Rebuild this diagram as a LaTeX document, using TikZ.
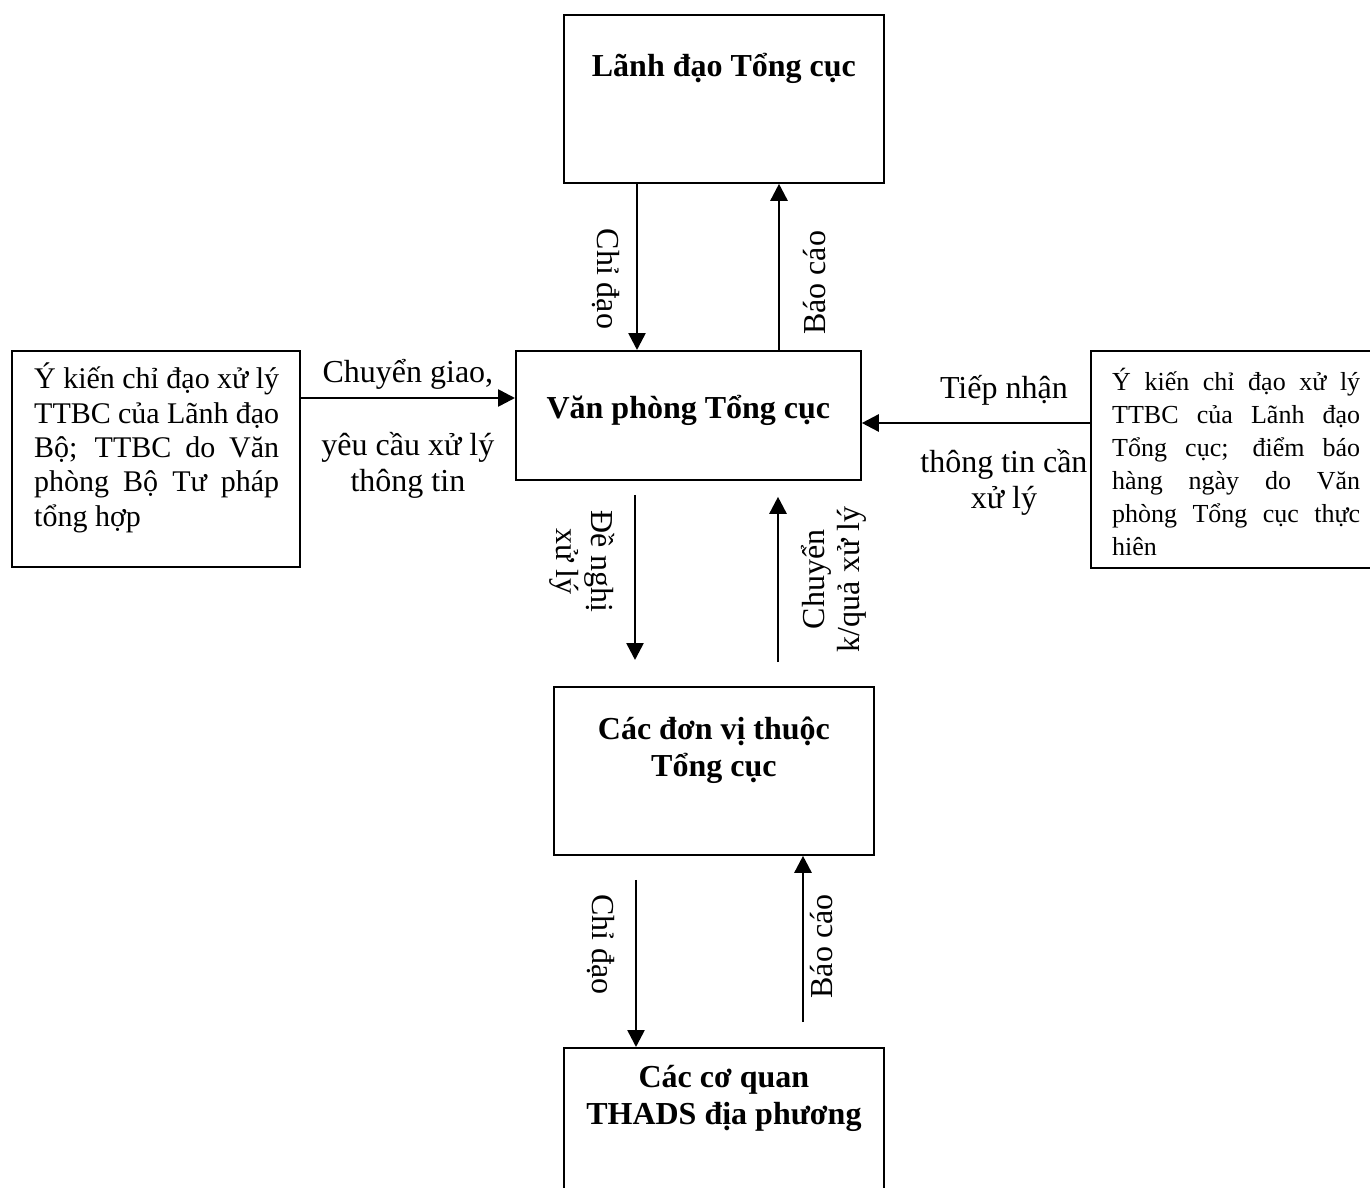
\documentclass[tikz,border=0pt]{standalone}
\usepackage{fontspec}
\setmainfont{Liberation Serif}
\usetikzlibrary{arrows.meta,positioning}

\begin{document}
\begin{tikzpicture}[x=1pt,y=-1pt,
  box/.style={draw, line width=1.8pt, inner sep=0pt, anchor=north west},
  hd/.style={font=\fontsize{32}{37}\selectfont\bfseries, align=center, anchor=base, inner sep=0pt},
  para/.style={align=justify, anchor=north west, inner sep=0pt},
  lb/.style={font=\fontsize{32}{35.5}\selectfont, align=center},
  arr/.style={line width=2.6pt, -{Triangle[width=17pt,length=17pt]}}]
\useasboundingbox (0,0) rectangle (1370,1188);

% boxes
\node[box, minimum width=320pt, minimum height=168pt,
  label={[hd, yshift=-63pt]north:{Lãnh đạo Tổng cục}}] (lead) at (563,14) {};
\node[box, minimum width=345pt, minimum height=129pt,
  label={[hd, yshift=-68pt]north:{Văn phòng Tổng cục}}] (office) at (515,350) {};
\node[box, minimum width=288pt, minimum height=216pt,
  label={[para, text width=245pt, font=\fontsize{30}{34.3}\selectfont, xshift=23pt, yshift=-13pt]north west:{Ý kiến chỉ đạo xử lý\linebreak TTBC của Lãnh đạo\linebreak Bộ; TTBC do Văn\linebreak phòng Bộ Tư pháp\linebreak tổng hợp}}] (left) at (11,350) {};
\node[box, minimum width=300pt, minimum height=217pt,
  label={[para, text width=248pt, font=\fontsize{26}{33}\selectfont, xshift=22pt, yshift=-18pt]north west:{Ý kiến chỉ đạo xử lý\linebreak TTBC của Lãnh đạo\linebreak Tổng cục; điểm báo\linebreak hàng ngày do Văn\linebreak phòng Tổng cục thực\linebreak hiên}}] (right) at (1090,350) {};
\node[box, minimum width=320pt, minimum height=168pt,
  label={[hd, yshift=-90pt]north:{Các đơn vị thuộc\\Tổng cục}}] (units) at (553,686) {};
\node[box, minimum width=320pt, minimum height=168pt,
  label={[hd, yshift=-77pt]north:{Các cơ quan\\THADS địa phương}}] (local) at (563,1047) {};

% arrow lanes
\coordinate (c1) at (637,0);
\coordinate (c2) at (779,0);
\coordinate (c3) at (635,0);
\coordinate (c4) at (778,0);
\coordinate (c5) at (636,0);
\coordinate (c6) at (803,0);
\coordinate (r1) at (0,398);
\coordinate (r2) at (0,423);

% arrows
\draw[arr] (lead.south -| c1) -- node[lb, xshift=-31pt, yshift=-12pt, rotate=-90]{Chỉ đạo} (office.north -| c1);
\draw[arr] (office.north -| c2) -- node[lb, xshift=36pt, yshift=-16pt, rotate=90]{Báo cáo} (lead.south -| c2);
\draw[arr] (left.east |- r1) -- node[lb, above=4pt]{Chuyển giao,}
  node[lb, below=30pt]{yêu cầu xử lý\\thông tin} (office.west |- r1);
\draw[arr] (right.west |- r2) -- node[lb, above=13pt, xshift=28pt]{Tiếp nhận}
  node[lb, below=22pt, xshift=28pt]{thông tin cần\\xử lý} (office.east |- r2);
\draw[arr, shorten <=14pt, shorten >=26pt] (office.south -| c3) -- node[lb, xshift=-53pt, yshift=22pt, rotate=-90]{Đề nghị\\xử lý} (units.north -| c3);
\draw[arr, shorten <=24pt, shorten >=16pt] (units.north -| c4) -- node[lb, xshift=56pt, yshift=4pt, rotate=90]{Chuyển\\k/quả xử lý} (office.south -| c4);
\draw[arr, shorten <=24pt] (units.south -| c5) -- node[lb, xshift=-35pt, yshift=7pt, rotate=-90]{Chỉ đạo} (local.north -| c5);
\draw[arr, shorten <=25pt] (local.north -| c6) -- node[lb, xshift=19pt, yshift=5pt, rotate=90]{Báo cáo} (units.south -| c6);
\end{tikzpicture}
\end{document}
